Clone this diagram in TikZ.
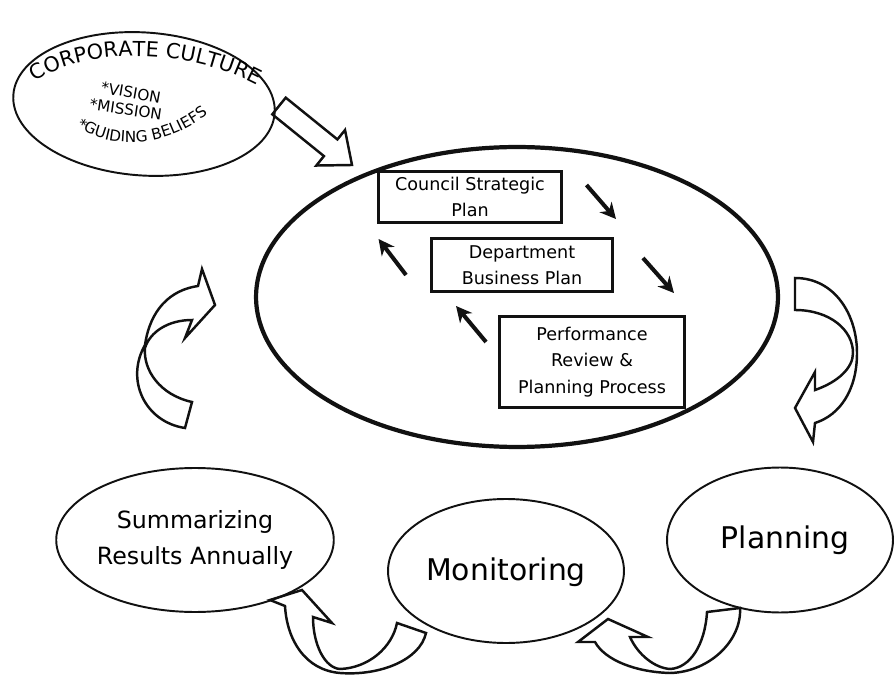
\documentclass[tikz,border=0pt]{standalone}
\usepackage{fontspec}
\setmainfont{DejaVu Sans}
\usetikzlibrary{shapes.geometric, arrows.meta, positioning, calc, decorations.text}
\definecolor{tinta}{HTML}{111111}
\tikzset{
  oval/.style={ellipse, draw=tinta, line width=1.1pt, minimum width=4.8cm, minimum height=2.88cm,
               align=center, inner sep=0pt},
  bigoval/.style={ellipse, draw=tinta, line width=2.4pt, minimum width=10.44cm, minimum height=6cm},
  planbox/.style={rectangle, draw=tinta, line width=1.7pt, minimum width=3.68cm, minimum height=1.02cm,
                  align=center, inner sep=1pt, font=\fontsize{10}{15}\selectfont},
  arrow/.style={line width=2.3pt, -{Stealth[length=9pt,width=9pt]}, color=tinta},
  hollow/.style={draw=tinta, line width=1.4pt, line join=miter},
  curvo/.style={decorate, decoration={text along path, text align=center}}
}

\begin{document}
\begin{tikzpicture}[x=0.02cm, y=-0.02cm]
  \useasboundingbox (0,0) rectangle (896,675);
  \node (culture) [oval, minimum width=5.24cm, minimum height=2.86cm, rotate=-4] at (144,104) {};
  \path [curvo, decoration={text={|\fontsize{11.8}{12}\selectfont|CORPORATE CULTURE}}] (30,85) .. controls (75,50) and (180,42) .. (262,88);
  \path [curvo, decoration={text={|\fontsize{8.7}{9}\selectfont|*VISION}}] (96,92) -- (164,104);
  \path [curvo, decoration={text={|\fontsize{8.7}{9}\selectfont|*MISSION}}] (84,109) -- (166,121);
  \path [curvo, decoration={text={|\fontsize{8.7}{9}\selectfont|*GUIDING BELIEFS}}] (72,124) .. controls (105,148) and (160,153) .. (212,111);

  \node (bigloop) [bigoval] at (517,297) {};
  \node (council) [planbox] at (470,197) {Council Strategic\\Plan};
  \node (dept) [planbox, minimum width=3.62cm, minimum height=1.06cm] at (522,265) {Department\\Business Plan};
  \node (perf) [planbox, minimum width=3.7cm, minimum height=1.82cm] at (592,362) {Performance\\Review \&\\Planning Process};
  \draw [arrow] ($(council.east)+(23,-12)$) -- ($(dept.north east)+(2,-18)$);
  \draw [arrow] ($(dept.east)+(29,-7)$) -- ($(perf.north east)+(-12,-22)$);
  \draw [arrow] ($(perf.west)+(-12,-20)$) -- ($(dept.south west)+(26,13)$);
  \draw [arrow] ($(dept.west)+(-24,10)$) -- ($(council.south west)+(2,15)$);

  \coordinate (cultTail) at ($(culture.center)+(135,2)$);
  \coordinate (cultTip) at ($(bigloop.center)+(-165,-132)$);
  \coordinate (cultHead) at ($(cultTip)!15.6pt!(cultTail)$);
  \draw [hollow] ($(cultTail)!6.1pt!90:(cultTip)$) -- ($(cultHead)!6.1pt!90:(cultTip)$) -- ($(cultHead)!13pt!90:(cultTip)$)
    -- (cultTip) -- ($(cultHead)!13pt!-90:(cultTip)$) -- ($(cultHead)!6.1pt!-90:(cultTip)$) -- ($(cultTail)!6.1pt!-90:(cultTip)$) -- cycle;

  \node (summ) [oval, font=\fontsize{13.5}{21}\selectfont] at (195,540) {Summarizing\\Results Annually};
  \node (monit) [oval, minimum width=4.72cm, font=\fontsize{17}{20}\selectfont, text height=1.3em, text depth=0.21em] at (506,571) {Monitoring};
  \node (plan) [oval, minimum width=4.52cm, minimum height=2.9cm, font=\fontsize{17}{20}\selectfont] at (780,540) {\hspace*{6pt}Planning};

  \draw [hollow] (795,278) .. controls (835,278) and (857,315) .. (857,353) .. controls (857,390) and (840,415) .. (815,423)
    -- (813,442) -- (795,408) -- (815,372) -- (815,390) .. controls (838,382) and (853,368) .. (853,353)
    .. controls (853,330) and (830,310) .. (795,310) -- cycle;
  \draw [hollow] (185,428) .. controls (145,422) and (125,380) .. (145,345) .. controls (150,310) and (170,290) .. (198,286)
    -- (202,269) -- (215,305) -- (185,338) -- (192,320) .. controls (168,320) and (150,332) .. (145,348)
    .. controls (143,370) and (160,395) .. (192,402) -- cycle;
  \draw [hollow] (397,623) -- (426,633) .. controls (420,660) and (380,676) .. (340,673) .. controls (305,670) and (287,640) .. (285,606)
    -- (270,600) -- (302,590) -- (332,623) -- (313,617) .. controls (313,645) and (325,668) .. (340,669)
    .. controls (368,668) and (392,648) .. (397,623) -- cycle;
  \draw [hollow] (707,612) -- (740,608) .. controls (742,640) and (710,672) .. (670,673) .. controls (635,672) and (605,660) .. (595,642)
    -- (578,642) -- (608,619) -- (648,637) -- (630,637) .. controls (638,655) and (655,668) .. (670,669)
    .. controls (690,668) and (705,645) .. (707,612) -- cycle;
\end{tikzpicture}
\end{document}
